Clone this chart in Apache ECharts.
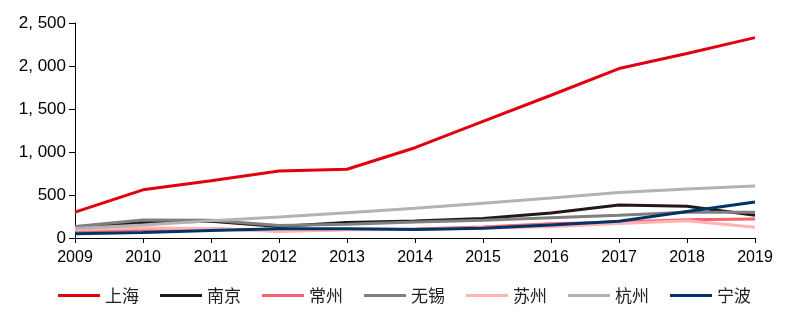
<!DOCTYPE html>
<html>
<head>
<meta charset="utf-8">
<script src="https://cdn.jsdelivr.net/npm/echarts@6/dist/echarts.min.js"></script>
<style>
html,body{margin:0;padding:0;background:#fff;}
#c{width:797px;height:325px;}
</style>
</head>
<body>
<div id="c"></div>
<script>
var years = ['2009','2010','2011','2012','2013','2014','2015','2016','2017','2018','2019'];
var shanghai = [300, 560, 665, 780, 800, 1050, 1355, 1660, 1970, 2145, 2330];
var nanjing  = [120, 180, 195, 135, 180, 198, 228, 290, 385, 370, 265];
var changzhou= [80, 95, 108, 85, 100, 105, 128, 165, 185, 212, 220];
var wuxi     = [135, 210, 205, 145, 160, 185, 205, 235, 265, 300, 300];
var suzhou   = [95, 115, 110, 75, 95, 100, 115, 130, 170, 200, 125];
var hangzhou = [110, 150, 200, 245, 295, 345, 405, 465, 530, 570, 605];
var ningbo   = [50, 65, 88, 108, 108, 100, 112, 150, 195, 309, 418];
var seriesNames = ['上海','南京','常州','无锡','苏州','杭州','宁波'];
var seriesData = [shanghai, nanjing, changzhou, wuxi, suzhou, hangzhou, ningbo];
var colors = ['#E1000F','#231815','#F7636F','#7F7F7F','#FFB3B3','#B3B3B3','#003366'];

var chart = echarts.init(document.getElementById('c'));
var series = seriesNames.map(function(n, i){
  return {
    name: n, type: 'line', data: seriesData[i],
    showSymbol: false, symbol: 'none',
    lineStyle: {width: 3, color: colors[i]},
    itemStyle: {color: colors[i]},
    z: 2 + i
  };
});
chart.setOption({
  animation: false,
  color: colors,
  grid: {left: 75, right: 42, top: 23, bottom: 87, containLabel: false},
  legend: {
    bottom: 16, left: 53,
    icon: 'rect', itemWidth: 42, itemHeight: 3, itemGap: 21,
    textStyle: {fontFamily: 'Noto Sans CJK SC', fontSize: 17, color: '#222', padding: [0,0,0,0]},
    data: seriesNames
  },
  xAxis: {
    type: 'category', data: years, boundaryGap: false,
    axisLine: {lineStyle: {color: '#000', width: 1}},
    axisTick: {show: true, alignWithLabel: true, length: 5, lineStyle: {color: '#000'}},
    axisLabel: {fontFamily: 'Liberation Sans, Arial', fontSize: 16, color: '#000', margin: 12}
  },
  yAxis: {
    type: 'value', min: 0, max: 2500, interval: 500,
    splitLine: {show: false},
    axisLine: {show: true, lineStyle: {color: '#000', width: 1}},
    axisTick: {show: true, length: 6, lineStyle: {color: '#000'}},
    axisLabel: {
      fontFamily: 'Liberation Sans, Arial', fontSize: 17, color: '#000', margin: 9,
      formatter: function(v){ return String(v).replace(/\B(?=(\d{3})+(?!\d))/g, ', '); }
    }
  },
  series: series
});
</script>
</body>
</html>
